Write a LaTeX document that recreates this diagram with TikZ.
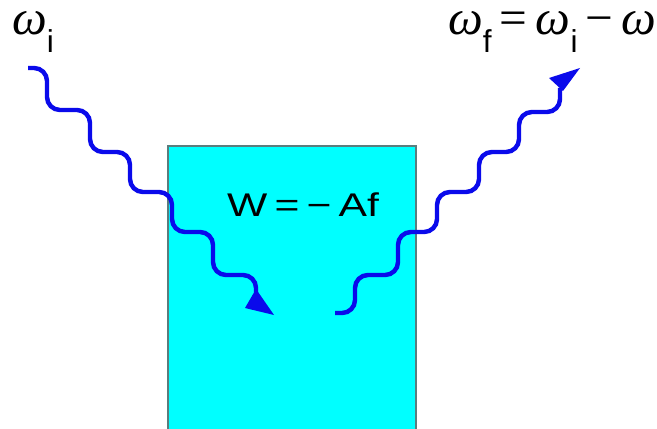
\documentclass[tikz,border=0pt]{standalone}
\usepackage{fontspec}
\setmainfont{Liberation Serif}
\setsansfont{Liberation Sans}
\definecolor{slabcyan}{RGB}{0, 255, 255}
\definecolor{slabedge}{RGB}{90, 125, 125}
\definecolor{photonblue}{RGB}{10, 10, 235}
\newcommand{\omegafont}{\fontsize{42}{44}\selectfont}
\newcommand{\subfont}{\sffamily\fontsize{27}{30}\selectfont}
\newcommand{\freq}[1]{\textit{ω}\raisebox{-15pt}{\subfont #1}}

\begin{document}
\begin{tikzpicture}[
    x=0.03cm, y=-0.03cm,
    slab/.style={fill=slabcyan, draw=slabedge, line width=1pt},
    % photon line drawn as a rounded staircase
    wave/.style={photonblue, line width=3.8pt, rounded corners=11pt},
    wave tip/.style={fill=photonblue}
]
    \useasboundingbox (0,0) rectangle (657,429);

    % Coordinates
    \coordinate (slab nw) at (168, 146);
    \coordinate (slab se) at (416, 432);
    \coordinate (in start)  at (28, 68);
    \coordinate (out start) at (335, 313);

    % Medium
    \filldraw[slab] (slab nw) rectangle (slab se);
    \node[anchor=base west, inner sep=0pt, font=\subfont\fontsize{28}{30}\selectfont] (work) at (227, 216)
        {\scalebox{1.3}[1]{W\,=\,−\,Af}};

    % Incoming photon
    \draw[wave] (in start) -| ++(19,42) -| ++(43,42) -| ++(40,40)
        -| ++(42,40) -| ++(41,43) -| ++(43,17) coordinate (in end);
    \fill[wave tip] (256,289) -- (245,308) -- (274,315) -- cycle;

    % Outgoing photon
    \draw[wave] (out start) -| ++(20,-38) -| ++(43,-43) -| ++(39,-40)
        -| ++(42,-40) -| ++(40,-40) -| ++(41,-24) coordinate (out end);
    \fill[wave tip] (549,78) -- (580,68) -- (563,91) -- cycle;

    % Frequencies
    \node[anchor=base west, inner sep=0pt, font=\omegafont] (omega in) at (12, 35)
        {\freq{i}};
    \node[anchor=base west, inner sep=0pt, font=\omegafont] (omega out) at (448, 35)
        {\freq{f}\,=\,\freq{i}\,−\,\textit{ω}};

\end{tikzpicture}
\end{document}
